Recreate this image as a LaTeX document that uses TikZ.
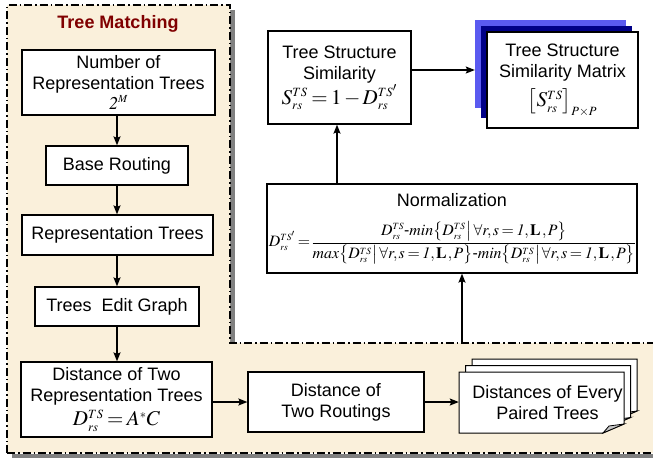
\documentclass[tikz,border=0pt]{standalone}
\usepackage{amsmath}
\usepackage{mathptmx}
\usepackage{fontspec}
\setmainfont{Liberation Sans}
\usetikzlibrary{arrows.meta}
\definecolor{tanbg}{RGB}{250,240,219}
\definecolor{titlered}{RGB}{128,0,0}
\definecolor{lightblue}{RGB}{90,90,240}
\definecolor{navyblue}{RGB}{0,0,135}
\definecolor{shadowgray}{RGB}{128,128,128}
\newcommand{\Dts}{D^{\scriptscriptstyle TS}_{\scriptscriptstyle rs}}
\newcommand{\Dtsp}{D^{\scriptscriptstyle TS'}_{\scriptscriptstyle rs}}
\newcommand{\Sts}{S^{\scriptscriptstyle TS}_{\scriptscriptstyle rs}}
\newcommand{\allrs}{\bigl\{\Dts\!\bigm|\!\forall r,s=\mathit{1},\mathbf{L}\,,P\bigr\}}
\thickmuskip=3mu
\medmuskip=2mu
\thinmuskip=1.5mu
\begin{document}
\begin{tikzpicture}[x=1pt,y=-1pt,
  box/.style={draw=black, line width=1.2pt, fill=white, inner sep=0pt, align=center, font=\fontsize{18}{21}\selectfont},
  lbl/.style={inner sep=0pt, align=center, font=\fontsize{18}{21}\selectfont},
  arr/.style={line width=1.4pt, -{Stealth[length=9pt,width=7pt,inset=1.5pt]}},
  border/.style={line width=1.5pt, dash pattern=on 8pt off 3pt on 1.5pt off 3pt},
  page/.style={draw=black, line width=1pt, fill=white}]
\useasboundingbox (0,0) rectangle (653,458);
% shadow of the region
\fill[shadowgray] (230,10) rectangle (235,343);
\fill[shadowgray] (12,454) rectangle (660,458);
% tree matching region
\path[fill=tanbg] (7,5) -- (230,5) -- (230,343) -- (660,343) -- (660,453) -- (7,453) -- cycle;
\draw[border] (7,453) -- (7,5) -- (230,5) -- (230,343) -- (660,343);
\draw[border] (7,453) -- (660,453);
\node[font=\fontsize{18}{21}\selectfont\bfseries, text=titlered] (title) at (118,24) {Tree Matching};

% left column
\node[box, minimum width=193, minimum height=65] (n1) at (118.5,82.5)
  {Number of\\Representation Trees\\[-1pt]{\fontsize{18}{18}\selectfont$\mathit{2}^{\scriptscriptstyle M}$}};
\node[box, minimum width=142, minimum height=39] (n2) at (117,165.5) {Base Routing};
\node[box, minimum width=191, minimum height=40] (n3) at (117.5,235) {Representation Trees};
\node[box, minimum width=164, minimum height=39] (n4) at (117,306.5) {Trees\ \ Edit Graph};
\node[box, minimum width=191, minimum height=75] (n5) at (116.5,399.5)
  {Distance of Two\\Representation Trees\\[3pt]{\fontsize{21}{21}\selectfont$\Dts=A^{\scriptscriptstyle *}C$}};
\node[box, minimum width=176, minimum height=60] (n6) at (336,402) {Distance of\\Two Routings};

% stacked pages
\foreach \d in {13,6.5,0}{
  \begin{scope}[shift={(\d,-\d)}]
    \draw[page] (459,372) -- (624,372) -- (624,424) -- (603,433) -- (459,433) -- cycle;
    \filldraw[draw=black, line width=0.8pt, fill=gray!45] (603,433) -- (624,424) -- (609,426) -- cycle;
  \end{scope}
}
\node[lbl, minimum width=165, minimum height=61] (n7) at (541.5,402.5) {\hspace*{12pt}Distances of Every\\\hspace*{12pt}Paired Trees};

% right column
\node[box, minimum width=143, minimum height=93] (tss) at (339.5,77.5)
  {Tree Structure\\Similarity\\[1pt]{\fontsize{21}{21}\selectfont$\Sts=1-\Dtsp$}};
\node[fill=lightblue, inner sep=0pt, minimum width=151, minimum height=88] (mb1) at (550.5,64) {};
\node[fill=navyblue, inner sep=0pt, minimum width=151, minimum height=92] (mb2) at (556.5,72) {};
\node[box, minimum width=151, minimum height=96] (mat) at (562.5,80)
  {Tree Structure\\Similarity Matrix\\[7pt]{\fontsize{21}{21}\selectfont$\bigl[\Sts\bigr]_{\scriptscriptstyle P\times P}$}};
\node[box, minimum width=370, minimum height=89] (norm) at (452,228.5) {};
\node[lbl] (normt) at (452,200) {Normalization};
\node[inner sep=0pt] (normf) at (452,243) {\resizebox{366pt}{!}{\fontsize{20}{24}\selectfont\nulldelimiterspace=0pt$\displaystyle \Dtsp=\frac{\Dts\textrm{-}\mathit{min}\allrs}{\mathit{max}\allrs\textrm{-}\mathit{min}\allrs}$}};

% connectors
\draw[arr] (n2.north |- n1.south) -- (n2.north);
\draw[arr] (n2.south) -- (n3.north -| n2.south);
\draw[arr] (n2.south |- n3.south) -- (n4.north -| n2.south);
\draw[arr] (n4.south) -- (n5.north -| n4.south);
\draw[arr] (n5.east |- n6.west) -- (n6.west);
\draw[arr] (n6.east) -- (n7.west |- n6.east);
\coordinate (up) at (462,343);
\draw[arr] (up) -- (up |- norm.south);
\coordinate (nx) at (337,0);
\draw[arr] (nx |- norm.north) -- (nx |- tss.south);
\coordinate (ay) at (0,70);
\draw[arr] (tss.east |- ay) -- (mb1.west |- ay);
\end{tikzpicture}
\end{document}
